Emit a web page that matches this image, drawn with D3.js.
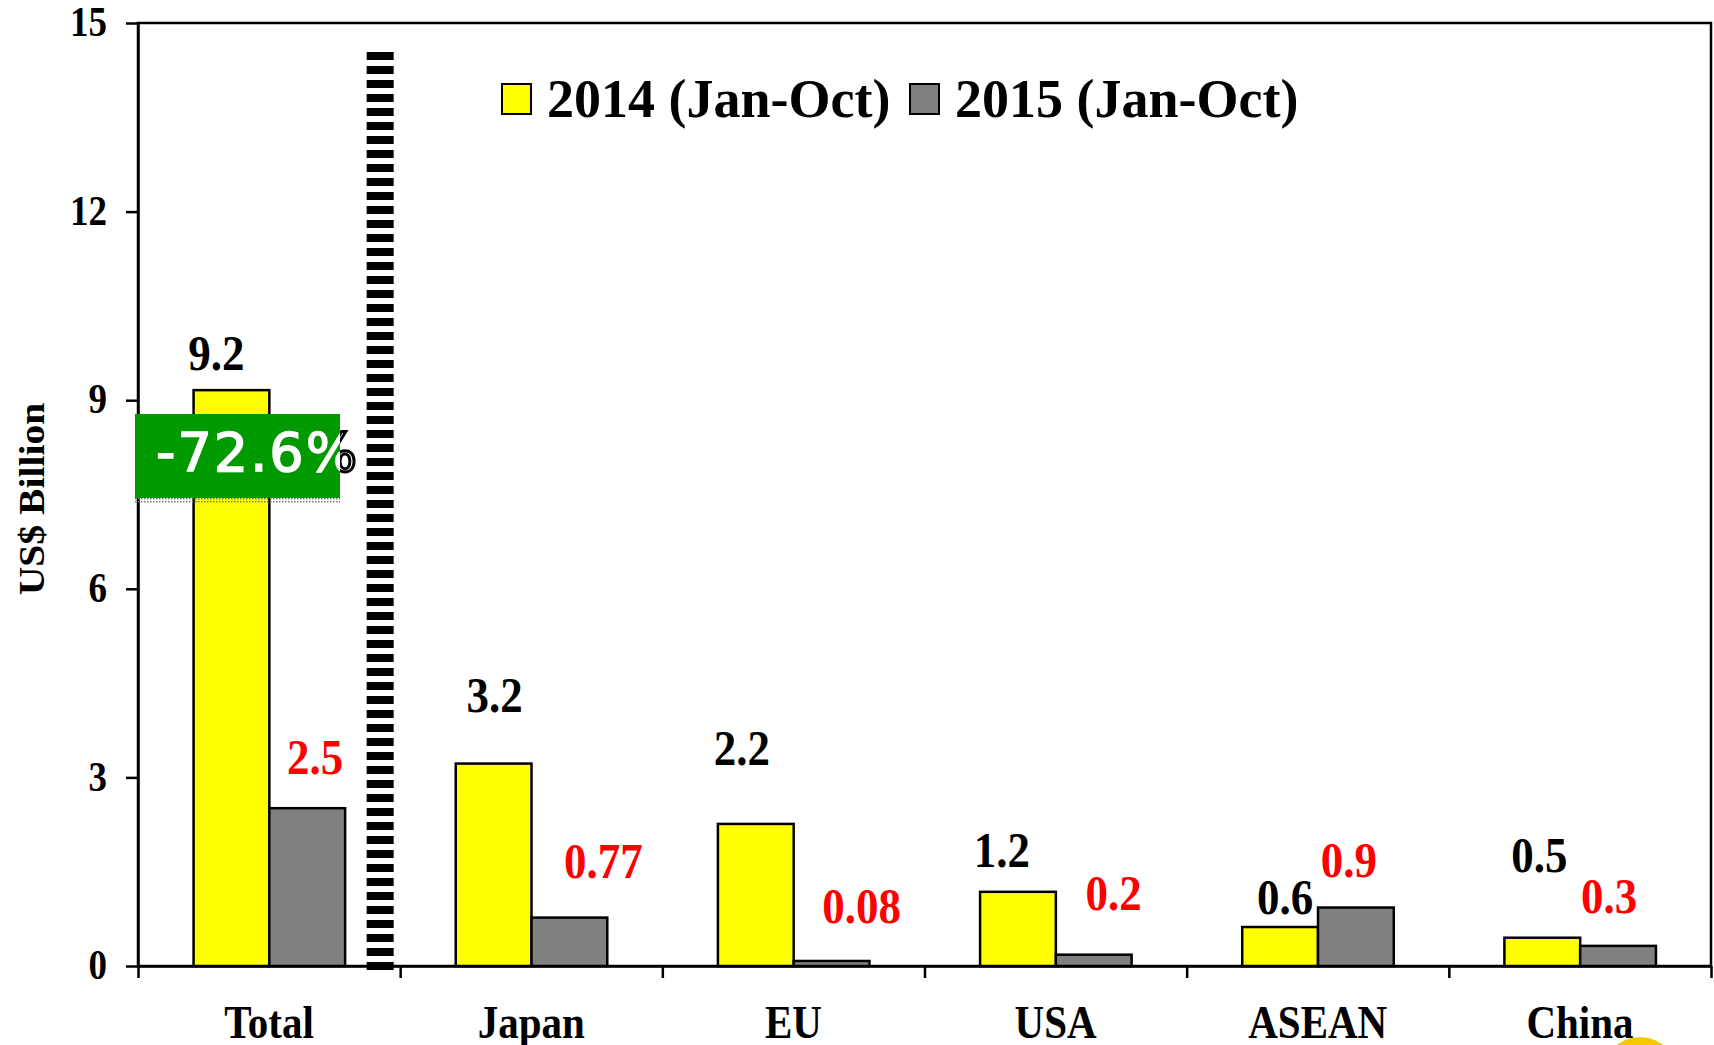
<!DOCTYPE html>
<html>
<head>
<meta charset="utf-8">
<script src="https://cdn.jsdelivr.net/npm/d3@7"></script>
<style>
  body { margin: 0; background: #fff; }
  svg { display: block; }
  text { font-family: "Liberation Serif", "Times New Roman", serif; font-weight: bold; }
</style>
</head>
<body>
<svg id="chart"></svg>
<script>
// data
var categories = ["Total", "Japan", "EU", "USA", "ASEAN", "China"];
var seriesNames = ["2014 (Jan-Oct)", "2015 (Jan-Oct)"];
var values2014 = [9.16, 3.22, 2.26, 1.18, 0.62, 0.45];
var values2015 = [2.51, 0.77, 0.08, 0.18, 0.93, 0.32];
var labels2014 = ["9.2", "3.2", "2.2", "1.2", "0.6", "0.5"];
var labels2015 = ["2.5", "0.77", "0.08", "0.2", "0.9", "0.3"];
var yTicks = [0, 3, 6, 9, 12, 15];
var changeText = "-72.6%";

// hand placed label offsets (px from bar center / bar top), like the original
var labelDx = [[-15, 1, -14, -16, 5, -3], [8, 34, 30, 20, -7, -9]];
var labelDy = [[-20, -52, -59, -25, -13, -66], [-34, -40, -38, -45, -31, -33]];

var width = 1714, height = 1045;
var plotLeft = 138, plotRight = 1711, plotTop = 23, plotBottom = 966;
var stretch = 1.12;

var svg = d3.select("#chart").attr("width", width).attr("height", height);

var y = d3.scaleLinear().domain([0, 15]).range([plotBottom, plotTop]);
var x = d3.scaleBand().domain(categories).range([plotLeft, plotRight]).paddingInner(0).paddingOuter(0);
var xs = d3.scaleBand().domain([0, 1]).range([x.bandwidth() * 0.212, x.bandwidth() * 0.79]);
var colors = ["#ffff00", "#808080"];

// frame
svg.append("rect")
  .attr("x", plotLeft).attr("y", plotTop)
  .attr("width", plotRight - plotLeft).attr("height", plotBottom - plotTop)
  .attr("fill", "none").attr("stroke", "#000").attr("stroke-width", 2.5);

// y axis
var yAxis = d3.axisLeft(y).tickValues(yTicks).tickSize(12).tickSizeOuter(0).tickPadding(19);
var yG = svg.append("g").attr("transform", "translate(" + plotLeft + ",0)").call(yAxis);
yG.select(".domain").attr("stroke-width", 2.5);
yG.selectAll(".tick line").attr("stroke-width", 2.5);
yG.selectAll(".tick text")
  .attr("font-size", 37).attr("fill", "#000")
  .attr("font-family", "Liberation Serif").attr("font-weight", "bold")
  .attr("dy", "0.3em")
  .attr("transform", "scale(1,1.15)");

// x axis ticks at category edges
var edges = d3.scaleLinear().domain([0, categories.length]).range([plotLeft, plotRight]);
var xAxis = d3.axisBottom(edges).tickValues(d3.range(categories.length + 1)).tickSize(12).tickSizeOuter(0).tickFormat("");
var xG = svg.append("g").attr("transform", "translate(0," + plotBottom + ")").call(xAxis);
xG.select(".domain").attr("stroke-width", 2.5);
xG.selectAll(".tick line").attr("stroke-width", 2.5);

// category labels
svg.append("g").selectAll("text")
  .data(categories).enter().append("text")
  .attr("transform", function (d) {
    return "translate(" + (x(d) + x.bandwidth() / 2) + ",1038) scale(1,1.14)";
  })
  .attr("text-anchor", "middle")
  .attr("font-size", 41)
  .text(function (d) { return d; });

// y title
svg.append("text")
  .attr("transform", "translate(44,499) scale(1,1.1) rotate(-90)")
  .attr("text-anchor", "middle")
  .attr("font-size", 36)
  .text("US$ Billion");

// bars
var series = [values2014, values2015];
var barData = [];
categories.forEach(function (c, i) {
  series.forEach(function (s, k) {
    barData.push({ cat: c, i: i, k: k, value: s[i] });
  });
});

svg.append("g").selectAll("rect")
  .data(barData).enter().append("rect")
  .attr("x", function (d) { return x(d.cat) + xs(d.k); })
  .attr("y", function (d) { return y(d.value); })
  .attr("width", xs.bandwidth())
  .attr("height", function (d) { return y(0) - y(d.value); })
  .attr("fill", function (d) { return colors[d.k]; })
  .attr("stroke", "#000")
  .attr("stroke-width", 2.5);

// value labels
var labelSets = [labels2014, labels2015];
svg.append("g").selectAll("text")
  .data(barData).enter().append("text")
  .attr("transform", function (d) {
    var cx = x(d.cat) + xs(d.k) + xs.bandwidth() / 2 + labelDx[d.k][d.i];
    var cy = y(d.value) + labelDy[d.k][d.i];
    return "translate(" + cx + "," + cy + ") scale(1," + stretch + ")";
  })
  .attr("text-anchor", "middle")
  .attr("font-size", 45)
  .attr("fill", function (d) { return d.k === 0 ? "#000" : "#ff0000"; })
  .text(function (d) { return labelSets[d.k][d.i]; });

// dashed divider between total and countries
var divX = x("Japan") - 20;
svg.append("line")
  .attr("x1", divX).attr("x2", divX)
  .attr("y1", 52).attr("y2", 973)
  .attr("stroke", "#000")
  .attr("stroke-width", 27)
  .attr("stroke-dasharray", "8,6");

// green change box
var boxX = 135, boxY = 414, boxW = 205, boxH = 84;
var defs = svg.append("defs");
defs.append("clipPath").attr("id", "inBox")
  .append("rect").attr("x", boxX).attr("y", boxY).attr("width", boxW).attr("height", boxH);
defs.append("clipPath").attr("id", "outBox")
  .append("rect").attr("x", boxX + boxW).attr("y", boxY).attr("width", 40).attr("height", boxH);
defs.append("pattern").attr("id", "dots")
  .attr("width", 3).attr("height", 3).attr("patternUnits", "userSpaceOnUse")
  .append("rect").attr("width", 1.5).attr("height", 1.5).attr("fill", "#777");

svg.append("rect")
  .attr("x", boxX).attr("y", boxY + boxH).attr("width", boxW).attr("height", 5)
  .attr("fill", "url(#dots)");
svg.append("rect")
  .attr("x", boxX).attr("y", boxY).attr("width", boxW).attr("height", boxH)
  .attr("fill", "#009900");
svg.append("text")
  .attr("x", 156).attr("y", 471)
  .attr("clip-path", "url(#outBox)")
  .style("font-family", "DejaVu Sans").style("font-weight", "normal")
  .style("letter-spacing", "2px")
  .attr("font-size", 54)
  .attr("fill", "none").attr("stroke", "#000").attr("stroke-width", 3)
  .text(changeText);
svg.append("text")
  .attr("x", 156).attr("y", 471)
  .attr("clip-path", "url(#inBox)")
  .style("font-family", "DejaVu Sans").style("font-weight", "normal")
  .style("letter-spacing", "2px")
  .attr("font-size", 54)
  .attr("fill", "#fff").attr("stroke", "#fff").attr("stroke-width", 1.5)
  .text(changeText);

// legend
var legendX = [502, 910];
var legend = svg.append("g").selectAll("g")
  .data(seriesNames).enter().append("g")
  .attr("transform", function (d, i) { return "translate(" + legendX[i] + ",0)"; });
legend.append("rect")
  .attr("x", 0).attr("y", 84).attr("width", 29).attr("height", 30)
  .attr("fill", function (d, i) { return colors[i]; })
  .attr("stroke", "#000").attr("stroke-width", 2);
legend.append("text")
  .attr("x", 45).attr("y", 117)
  .attr("font-size", 54)
  .text(function (d) { return d; });

// stray yellow shape at bottom edge
svg.append("ellipse")
  .attr("cx", 1640).attr("cy", 1075).attr("rx", 38).attr("ry", 38)
  .attr("fill", "#f5c800");
</script>
</body>
</html>
